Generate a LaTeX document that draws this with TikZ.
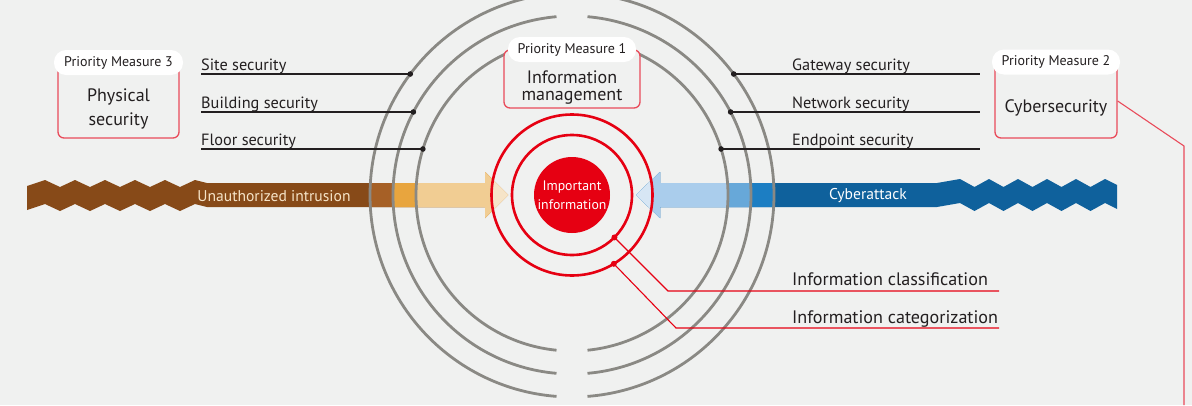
\documentclass[tikz,border=0pt]{standalone}
\usepackage{fontspec}
\setmainfont{PT Sans}
\definecolor{bgc}{HTML}{F0F1F0}
\definecolor{ringgray}{HTML}{8A8984}
\definecolor{redc}{HTML}{E60012}
\definecolor{boxred}{HTML}{E94B5A}
\definecolor{textc}{HTML}{231F20}
\definecolor{brA}{HTML}{874A18}
\definecolor{brB}{HTML}{A66026}
\definecolor{brC}{HTML}{E8A53E}
\definecolor{brD}{HTML}{F1CD93}
\definecolor{brE}{HTML}{F6E4C8}
\definecolor{blA}{HTML}{0F619C}
\definecolor{blB}{HTML}{1C7EC3}
\definecolor{blC}{HTML}{67A8D9}
\definecolor{blD}{HTML}{AACDEC}
\definecolor{blE}{HTML}{D7E6F4}
\def\leftpath{(27,186) -- (45,180) -- (60,187) -- (75,180) -- (90,187) -- (105,180) -- (120,187) -- (135,180) -- (150,187) -- (165,180) -- (180,187) -- (195,180) -- (207,183) -- (485,183) -- (485,172) -- (508,195) -- (485,218) -- (485,207) -- (207,207) -- (195,204) -- (180,211) -- (165,204) -- (150,211) -- (135,204) -- (120,211) -- (105,204) -- (90,211) -- (75,204) -- (60,211) -- (45,204) -- (27,210) -- cycle}
\def\rightpath{(1117,185) -- (1105,179) -- (1090.5,187) -- (1076,179) -- (1061.5,187) -- (1047,179) -- (1032.5,187) -- (1018,179) -- (1003.5,187) -- (989,179) -- (974.5,187) -- (960,179) -- (937,183) -- (660,183) -- (660,172) -- (636,195) -- (660,218) -- (660,207) -- (937,207) -- (960,203) -- (974.5,211) -- (989,203) -- (1003.5,211) -- (1018,203) -- (1032.5,211) -- (1047,203) -- (1061.5,211) -- (1076,203) -- (1090.5,211) -- (1105,203) -- (1117,209) -- cycle}
\begin{document}
\begin{tikzpicture}[x=1pt,y=-1pt,
  grayring/.style={draw=ringgray,line width=2.8pt},
  redring/.style={draw=redc,line width=2.6pt},
  lbl/.style={anchor=base west,inner sep=0pt,text=textc,font=\fontsize{16.3}{18}\selectfont},
  lblline/.style={draw=textc,line width=1.1pt},
  dotc/.style={fill=textc},
  ptr/.style={draw=redc,line width=1.1pt},
  pbox/.style={draw=boxred,line width=1.3pt,fill=bgc,rounded corners=6pt,inner sep=0pt},
  pill/.style={fill=white,rounded corners=12pt,inner sep=0pt,minimum height=25pt,text=textc,font=\fontsize{14}{16}\selectfont},
  bigtxt/.style={align=center,text=textc,inner sep=0pt,font=\fontsize{18}{17.5}\selectfont},
  infolbl/.style={anchor=base west,inner sep=0pt,text=textc,font=\fontsize{18.1}{20}\selectfont},
  arrtxt/.style={inner sep=0pt,font=\fontsize{15.6}{18}\selectfont}]
\useasboundingbox (0,0) rectangle (1192,405);
\fill[bgc] (0,0) rectangle (1192,405);
\coordinate (c) at (572,195);
% arrows
\fill[brA] \leftpath;
\begin{scope}
\clip \leftpath;
\fill[brB] (c) circle[radius=202];
\fill[brC] (c) circle[radius=179];
\fill[brD] (c) circle[radius=156];
\fill[brE] (c) circle[radius=81];
\end{scope}
\fill[blA] \rightpath;
\begin{scope}
\clip \rightpath;
\fill[blB] (c) circle[radius=202];
\fill[blC] (c) circle[radius=179];
\fill[blD] (c) circle[radius=156];
\fill[blE] (c) circle[radius=81];
\end{scope}
\node[arrtxt,text=brE] (intr) at (274,196) {Unauthorized intrusion};
\node[arrtxt,text=white] (cyb) at (868,196) {Cyberattack};
% gray rings
\foreach \r in {156,179,202} {
  \draw[grayring] (c) ++({-90+asin(15.5/\r)}:\r) arc[start angle={-90+asin(15.5/\r)}, end angle={90-asin(15.5/\r)}, radius=\r];
  \draw[grayring] (c) ++({90+asin(15.5/\r)}:\r) arc[start angle={90+asin(15.5/\r)}, end angle={270-asin(15.5/\r)}, radius=\r];
}
% red rings
\draw[redring] (c) circle[radius=60];
\draw[redring] (c) circle[radius=80.5];
\node[circle,fill=redc,minimum size=76pt,inner sep=0pt,align=center,text=white,font=\fontsize{13.8}{19}\selectfont] (core) at (c) {Important\\information};
% left labels
\node[lbl] (site) at (201,70.5) {Site security};
\node[lbl] (bldg) at (201,108) {Building security};
\node[lbl] (floor) at (201,145) {Floor security};
\coordinate (siteA) at (201,74); \coordinate (siteB) at (410.3,74);
\coordinate (bldgA) at (201,112); \coordinate (bldgB) at (413.4,112);
\coordinate (floorA) at (201,149); \coordinate (floorB) at (422.9,149);
\draw[lblline] (siteA) -- (siteB);
\draw[lblline] (bldgA) -- (bldgB);
\draw[lblline] (floorA) -- (floorB);
\fill[dotc] (siteB) circle[radius=2.8];
\fill[dotc] (bldgB) circle[radius=2.8];
\fill[dotc] (floorB) circle[radius=2.8];
% right labels
\node[lbl] (gate) at (792,70.5) {Gateway security};
\node[lbl] (net) at (792,108) {Network security};
\node[lbl] (endp) at (792,145) {Endpoint security};
\coordinate (gateA) at (733.7,74); \coordinate (gateB) at (980,74);
\coordinate (netA) at (730.6,112); \coordinate (netB) at (980,112);
\coordinate (endpA) at (721.1,149); \coordinate (endpB) at (980,149);
\draw[lblline] (gateA) -- (gateB);
\draw[lblline] (netA) -- (netB);
\draw[lblline] (endpA) -- (endpB);
\fill[dotc] (gateA) circle[radius=2.8];
\fill[dotc] (netA) circle[radius=2.8];
\fill[dotc] (endpA) circle[radius=2.8];
% red pointers
\path (c) ++(45:60) coordinate (cl0);
\path (c) ++(58.7:80.5) coordinate (ca0);
\coordinate (cl1) at (668,291); \coordinate (cl2) at (999,291);
\coordinate (ca1) at (676,328); \coordinate (ca2) at (999,328);
\draw[ptr] (cl0) -- (cl1) -- (cl2);
\draw[ptr] (ca0) -- (ca1) -- (ca2);
\fill[redc] (cl0) circle[radius=3];
\fill[redc] (ca0) circle[radius=3];
\node[infolbl] (cls) at (792,285) {Information classification};
\node[infolbl] (cat) at (792,323) {Information categorization};
% boxes
\node[pbox,minimum width=121pt,minimum height=76pt] (pm3) at (118.5,100) {};
\node[pill,minimum width=129pt] (pm3p) at (118.5,62.5) {Priority Measure 3};
\node[bigtxt,font=\fontsize{18}{24.5}\selectfont] (pm3t) at (118.5,109) {Physical\\security};
\node[pbox,minimum width=136pt,minimum height=58pt] (pm1) at (572,79) {};
\node[pill,minimum width=128pt] (pm1p) at (572,49.5) {Priority Measure 1};
\node[bigtxt] (pm1t) at (572,87.5) {Information\\management};
\node[pbox,minimum width=122pt,minimum height=76pt] (pm2) at (1056,100) {};
\node[pill,minimum width=128pt] (pm2p) at (1056,62) {Priority Measure 2};
\node[bigtxt] (pm2t) at (1056,108) {Cybersecurity};
\coordinate (cyb1) at (1184,146);
\coordinate (cyb2) at (1184,405);
\draw[ptr,draw=boxred] (pm2.east |- 0,101) -- (cyb1) -- (cyb2);
\end{tikzpicture}
\end{document}
